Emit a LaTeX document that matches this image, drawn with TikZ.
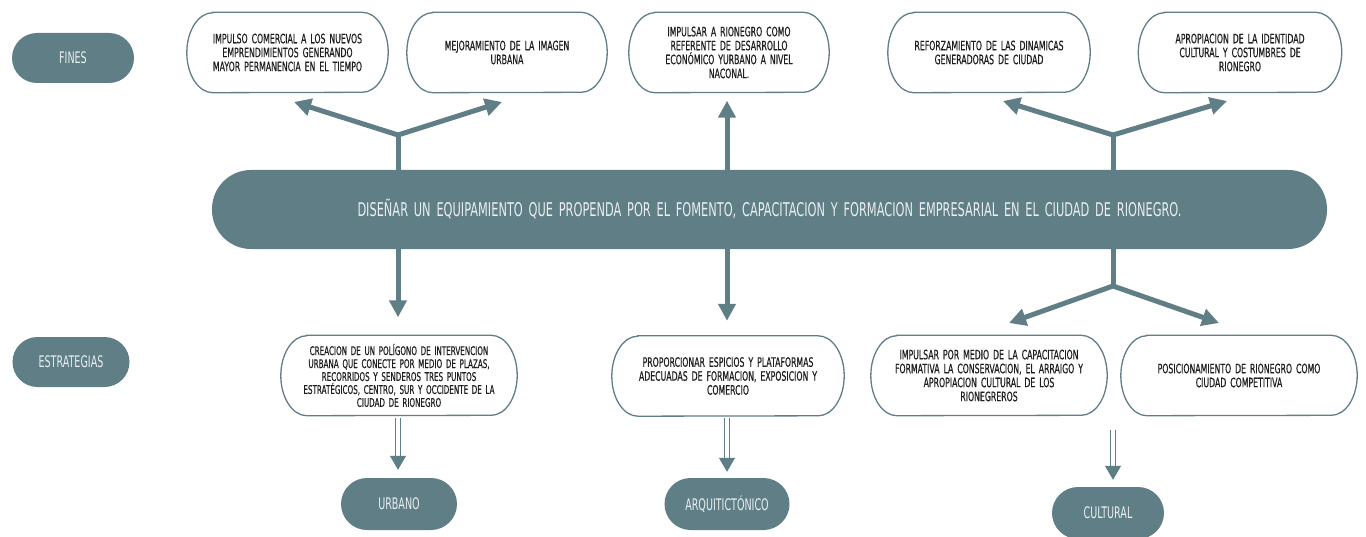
\documentclass[tikz,border=0pt]{standalone}
\usepackage{fontspec}
\setmainfont[FakeStretch=0.6,WordSpace=1.6]{DejaVu Sans}
\newfontfamily\cajafont[FakeStretch=0.6,WordSpace=1.6,FakeBold=0.5]{DejaVu Sans}
\usetikzlibrary{arrows.meta}

\definecolor{petrol}{HTML}{5F7E86}
\definecolor{tinta}{HTML}{1E1E1E}
\definecolor{claro}{HTML}{E9EEF0}

\begin{document}
\begin{tikzpicture}[x=1bp,y=-1bp,
        pill/.style={fill=petrol,text=claro,minimum height=50bp,rounded corners=25bp,
          font=\fontsize{16}{19}\selectfont},
        caja/.style={minimum height=80bp,align=center,text=tinta,
          font=\cajafont\fontsize{13}{14}\selectfont},
        borde/.style={draw=petrol,line width=1.3bp},
        tallo/.style={draw=petrol,line width=5bp},
        flecha/.style={tallo,-{Triangle[length=17bp,width=17bp]}},
        doble/.style={draw=petrol,line width=1bp,double=white,double distance=3.5bp,
          -{Triangle[length=14bp,width=16bp]}}]

  \useasboundingbox (0,0) rectangle (1366,537);

  % etiquetas
  \node[pill,minimum width=122bp] (fines) at (73,58) {FINES};
  \node[pill,minimum width=117bp] (estrat) at (71,362) {ESTRATEGIAS};

  % fines
  \node[caja,minimum width=201bp] (fin1) at (287.5,52.5)
    {IMPULSO COMERCIAL A LOS NUEVOS\\EMPRENDIMIENTOS GENERANDO\\MAYOR PERMANENCIA EN EL TIEMPO};
  \node[caja,minimum width=200bp] (fin2) at (507,52.5)
    {MEJORAMIENTO DE LA IMAGEN\\URBANA};
  \node[caja,minimum width=200bp] (fin3) at (729,52.5)
    {IMPULSAR A RIONEGRO COMO\\REFERENTE DE DESARROLLO\\ECONÓMICO YURBANO A NIVEL\\NACONAL.};
  \node[caja,minimum width=202bp] (fin4) at (989,52.5)
    {REFORZAMIENTO DE LAS DINAMICAS\\GENERADORAS DE CIUDAD};
  \node[caja,minimum width=203bp] (fin5) at (1240,52.5)
    {APROPIACION DE LA IDENTIDAD\\CULTURAL Y COSTUMBRES DE\\RIONEGRO};

  % objetivo
  \node[pill,minimum width=1115bp,minimum height=79bp,rounded corners=39bp,
    font=\fontsize{19}{22}\selectfont] (obj) at (769.5,209.5)
    {DISEÑAR UN EQUIPAMIENTO QUE PROPENDA POR EL FOMENTO, CAPACITACION Y FORMACION EMPRESARIAL EN EL CIUDAD DE RIONEGRO.};

  % estrategias
  \node[caja,minimum width=236bp,font=\cajafont\fontsize{12}{13}\selectfont] (est1) at (399,375.5)
    {CREACION DE UN POLÍGONO DE INTERVENCION\\URBANA QUE CONECTE POR MEDIO DE PLAZAS,\\RECORRIDOS Y SENDEROS TRES PUNTOS\\ESTRATÉGICOS, CENTRO, SUR Y OCCIDENTE DE LA\\CIUDAD DE RIONEGRO};
  \node[caja,minimum width=232bp] (est2) at (728,376)
    {PROPORCIONAR ESPICIOS Y PLATAFORMAS\\ADECUADAS DE FORMACION, EXPOSICION Y\\COMERCIO};
  \node[caja,minimum width=236bp] (est3) at (989,375.5)
    {IMPULSAR POR MEDIO DE LA CAPACITACION\\FORMATIVA LA CONSERVACION, EL ARRAIGO Y\\APROPIACION CULTURAL DE LOS\\RIONEGREROS};
  \node[caja,minimum width=236bp] (est4) at (1239,375.5)
    {POSICIONAMIENTO DE RIONEGRO COMO\\CIUDAD COMPETITIVA};

  % contornos
  \foreach \n in {fin1,fin2,fin3,fin4,fin5,est1,est2,est3,est4}
    \draw[borde] ([xshift=26bp]\n.north west) -- ([xshift=-26bp]\n.north east)
      arc[start angle=90,end angle=-90,x radius=26bp,y radius=40bp]
      -- ([xshift=26bp]\n.south west)
      arc[start angle=270,end angle=90,x radius=26bp,y radius=40bp] -- cycle;

  % componentes
  \node[pill,minimum width=116bp,minimum height=52bp,rounded corners=26bp] (urb) at (399,504) {URBANO};
  \node[pill,minimum width=125bp,minimum height=52bp,rounded corners=26bp] (arq) at (727,504) {ARQUITICTÓNICO};
  \node[pill,minimum width=112bp,minimum height=52bp,rounded corners=26bp] (cul) at (1108,513) {CULTURAL};

  % nudos
  \coordinate (nA) at (398,135);
  \coordinate (nB) at (727,135);
  \coordinate (nC) at (1113,135);
  \coordinate (nD) at (1113,286);
  \coordinate (pA1) at (294,102);
  \coordinate (pA2) at (502,102);
  \coordinate (pC1) at (1003,101);
  \coordinate (pC2) at (1227,101);
  \coordinate (pD1) at (1009,323);
  \coordinate (pD2) at (1219,323);
  \coordinate (iC) at (1113,430);

  % hacia los fines
  \draw[tallo] (obj.north -| nA) -- (nA);
  \draw[flecha] (nA) -- (pA1);
  \draw[flecha] (nA) -- (pA2);
  \draw[flecha] (obj.north -| nB) -- ([yshift=-8bp]fin3.south -| nB);
  \draw[tallo] (obj.north -| nC) -- (nC);
  \draw[flecha] (nC) -- (pC1);
  \draw[flecha] (nC) -- (pC2);

  % hacia las estrategias
  \draw[flecha] (obj.south -| nA) -- ([yshift=18bp]est1.north -| nA);
  \draw[flecha] (obj.south -| nB) -- ([yshift=15bp]est2.north -| nB);
  \draw[tallo] (obj.south -| nD) -- (nD);
  \draw[flecha] (nD) -- (pD1);
  \draw[flecha] (nD) -- (pD2);

  % hacia los componentes
  \draw[doble,shorten <=2bp,shorten >=8bp] (est1.south -| nA) -- (urb.north -| nA);
  \draw[doble,shorten <=2bp,shorten >=6bp] (est2.south -| nB) -- (arq.north -| nB);
  \draw[doble,shorten >=7bp] (iC) -- (cul.north -| iC);

\end{tikzpicture}
\end{document}
